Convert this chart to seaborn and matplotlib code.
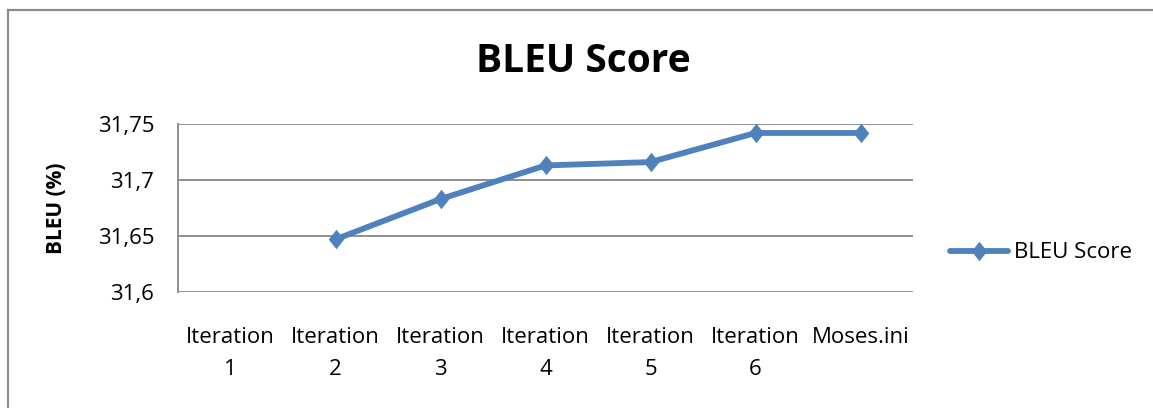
import numpy as np
import pandas as pd
import matplotlib
matplotlib.use("Agg")
import matplotlib.pyplot as plt
from matplotlib.patches import Rectangle
import seaborn as sns

categories = ["Iteration\n1", "Iteration\n2", "Iteration\n3", "Iteration\n4",
              "Iteration\n5", "Iteration\n6", "Moses.ini"]
bleu = [np.nan, 31.647, 31.683, 31.713, 31.716, 31.742, 31.742]
yticks = [31.6, 31.65, 31.7, 31.75]
ytick_labels = ["31,6", "31,65", "31,7", "31,75"]

sns.set_theme(style="white")
plt.rcParams["font.family"] = ["Open Sans", "DejaVu Sans"]
plt.rcParams["text.color"] = "black"
plt.rcParams["xtick.color"] = "black"
plt.rcParams["ytick.color"] = "black"

blue = "#4F81BD"
grid = "#878787"

fig = plt.figure(figsize=(11.53, 4.08), dpi=100)
ax = fig.add_axes([178 / 1153, 1 - 292 / 408, (913 - 178) / 1153, (292 - 124) / 408])

df = pd.DataFrame({"pos": np.arange(len(categories)), "score": bleu})
diamond = [(0, 1), (0.8, 0), (0, -1), (-0.8, 0), (0, 1)]
sns.lineplot(data=df, x="pos", y="score", ax=ax, color=blue, linewidth=4.2,
             marker=diamond, markersize=14, markeredgewidth=0,
             label="BLEU Score")

ax.set_xlim(-0.5, len(categories) - 0.5)
ax.set_ylim(yticks[0], yticks[-1])
ax.set_yticks(yticks)
ax.set_yticklabels(ytick_labels, fontsize=16)
ax.set_xticks(np.arange(len(categories)))
ax.set_xticklabels(categories, fontsize=16, linespacing=1.7, va="top")
ax.tick_params(axis="x", length=0, pad=25)
ax.tick_params(axis="y", length=0, pad=17)
for lab in ax.get_xticklabels():
    lab.set_multialignment("center")

ax.yaxis.grid(True, color=grid, linewidth=1.3)
ax.set_axisbelow(True)
for s in ["top", "right", "bottom"]:
    ax.spines[s].set_visible(False)
ax.spines["left"].set_color(grid)
ax.spines["left"].set_linewidth(1.3)

ax.set_xlabel("")
ax.set_ylabel("")
fig.text(57 / 1153, 1 - 208 / 408, "BLEU (%)", fontsize=15, fontweight="bold",
         rotation=90, ha="center", va="center")

fig.text(583 / 1153, 1 - 61 / 408, "BLEU Score", fontsize=28, fontweight="bold",
         ha="center", va="center")

ax.legend(loc="center left", bbox_to_anchor=(950 / 1153, 1 - 253 / 408),
          bbox_transform=fig.transFigure, frameon=False, fontsize=16,
          handlelength=2.6, handletextpad=0.3, borderpad=0, borderaxespad=0)

fig.patches.append(Rectangle((8 / 1153, -0.05), 1.1, 1 - 10 / 408 + 0.05,
                             transform=fig.transFigure, fill=False,
                             edgecolor="#8c8c8c", linewidth=1.6))

fig.savefig("out.png", dpi=100)
